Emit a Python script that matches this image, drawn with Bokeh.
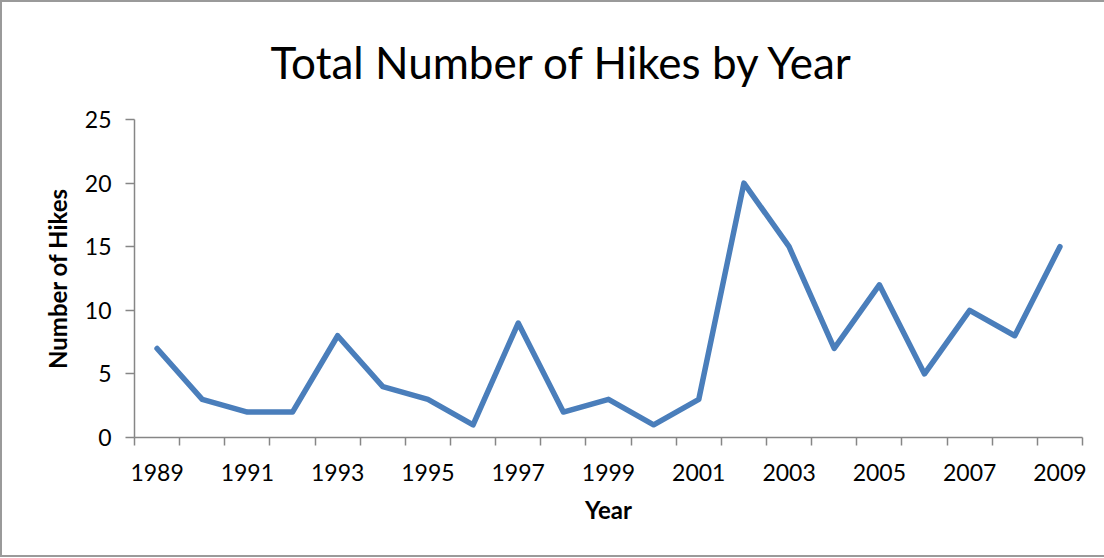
from bokeh.plotting import figure
from bokeh.models import FixedTicker, Range1d
from bokeh.embed import file_html
from bokeh.resources import INLINE

years = [1989, 1990, 1991, 1992, 1993, 1994, 1995, 1996, 1997, 1998, 1999,
         2000, 2001, 2002, 2003, 2004, 2005, 2006, 2007, 2008, 2009]
hikes = [7, 3, 2, 2, 8, 4, 3, 1, 9, 2, 3, 1, 3, 20, 15, 7, 12, 5, 10, 8, 15]
label_years = [1989, 1991, 1993, 1995, 1997, 1999, 2001, 2003, 2005, 2007, 2009]
y_ticks = [0, 5, 10, 15, 20, 25]
title_text = "Total Number of Hikes by Year"

FONT = "Lato"
AX = "#868686"

p = figure(width=1104, height=557, output_backend="svg", toolbar_location=None,
           x_range=Range1d(years[0] - 0.5, years[-1] + 0.5),
           y_range=Range1d(0, 25),
           min_border_left=132, min_border_right=24,
           min_border_top=117, min_border_bottom=122)

p.title.text = title_text
p.title.align = "left"
p.title.offset = 136
p.title.vertical_align = "top"
p.title.text_font = FONT
p.title.text_font_style = "normal"
p.title.text_font_size = "44px"
p.title.text_color = "#000000"
p.title.standoff = 60

p.line(years, hikes, line_color="#4A7EBB", line_width=5.5,
       line_join="round", line_cap="round")

p.xgrid.visible = False
p.ygrid.visible = False
p.outline_line_color = None
p.styles = {"border-left": "2px solid #9a9a9a", "border-top": "2px solid #9a9a9a",
            "border-bottom": "2px solid #9a9a9a", "box-sizing": "border-box"}

bounds = [y - 0.5 for y in years] + [years[-1] + 0.5]
p.xaxis.ticker = FixedTicker(ticks=label_years, minor_ticks=bounds)
p.xaxis.major_tick_line_color = None
p.xaxis.minor_tick_line_color = AX
p.xaxis.minor_tick_out = 8
p.xaxis.minor_tick_in = 0
p.xaxis.axis_line_color = AX
p.xaxis.axis_line_width = 1.5
p.xaxis.minor_tick_line_width = 1.5
p.xaxis.major_label_text_font = FONT
p.xaxis.major_label_text_font_size = "23px"
p.xaxis.major_label_text_color = "#000000"
p.xaxis.major_label_standoff = 18
p.xaxis.axis_label = "Year"
p.xaxis.axis_label_text_font = FONT
p.xaxis.axis_label_text_font_style = "bold"
p.xaxis.axis_label_text_font_size = "24px"
p.xaxis.axis_label_text_color = "#000000"
p.xaxis.axis_label_standoff = 11

p.yaxis.ticker = FixedTicker(ticks=y_ticks)
p.yaxis.major_tick_line_color = AX
p.yaxis.major_tick_out = 9
p.yaxis.major_tick_in = 0
p.yaxis.minor_tick_line_color = None
p.yaxis.axis_line_color = AX
p.yaxis.axis_line_width = 1.5
p.yaxis.major_tick_line_width = 1.5
p.yaxis.major_label_text_font = FONT
p.yaxis.major_label_text_font_size = "23px"
p.yaxis.major_label_text_color = "#000000"
p.yaxis.major_label_standoff = 14
p.yaxis.axis_label = "Number of Hikes"
p.yaxis.axis_label_text_font = FONT
p.yaxis.axis_label_text_font_style = "bold"
p.yaxis.axis_label_text_font_size = "24px"
p.yaxis.axis_label_text_color = "#000000"
p.yaxis.axis_label_standoff = 10

open("out.html", "w").write(file_html(p, INLINE))
